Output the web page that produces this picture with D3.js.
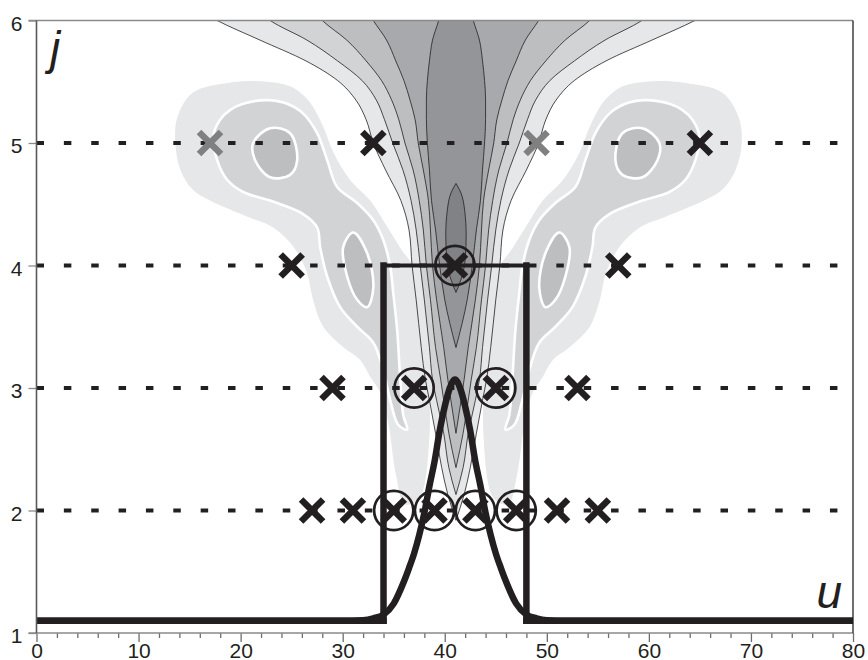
<!DOCTYPE html>
<html><head><meta charset="utf-8">
<script src="https://cdn.jsdelivr.net/npm/d3@7"></script>
<style>body{margin:0;background:#fff}svg{display:block}</style>
</head><body>
<svg id="c" width="868" height="660"></svg>
<script>
// ---------- data ----------
const xMajorTicks = [0,10,20,30,40,50,60,70,80];
const xMinorTicks = [2,4,6,8,12,14,16,18,22,24,26,28,32,34,36,38,42,44,46,48,52,54,56,58,62,64,66,68,72,74,76,78];
const yTicks = [1,2,3,4,5,6];
const rowLevels = [2,3,4,5];

// step profile (thick line)
const stepU = [0,34,34,48,48,80];
const stepJ = [1.1,1.1,4,4,1.1,1.1];

// bell profile (thick line)
const bellU = [0,25,30,32,33,34,35,36,36.5,37,37.5,38,38.5,39,39.5,40,40.5,41,41.5,42,42.5,43,43.5,44,44.5,45,45.5,46,47,48,49,50,52,57,80];
const bellJ = [1.1,1.1,1.1,1.105,1.12,1.15,1.24,1.42,1.53,1.65,1.8,1.98,2.2,2.4,2.65,2.85,3.0,3.07,3.0,2.85,2.65,2.4,2.2,1.98,1.8,1.65,1.53,1.42,1.24,1.15,1.12,1.105,1.1,1.1,1.1];

// markers
const markU    = [17,33,49,65, 25,41,57, 29,37,45,53, 27,31,35,39,43,47,51,55];
const markJ    = [5,5,5,5, 4,4,4, 3,3,3,3, 2,2,2,2,2,2,2,2];
const markTone = ['g','k','g','k', 'k','k','k', 'k','k','k','k', 'k','k','k','k','k','k','k','k'];
const markRing = [0,0,0,0, 0,1,0, 0,1,1,0, 0,0,1,1,1,1,0,0];

// central funnel contours: half widths (u) at levels j, centred at funnelCenter
const funnelCenter = 41.1;
const funnelJ  = [6.1,6.0,5.84,5.67,5.51,5.35,5.19,5.0,4.78,4.53,4.29,4.0,3.72,3.33,3.07,2.9,2.63,2.35,2.13,1.92];
const funnelW1 = [25.5,23.4,19.2,14.7,11.6,9.8,8.8,8.1,6.9,5.4,4.6,4.3,3.9,3.4,3.0,2.6,2.0,1.4,0.8,0];
const funnelW2 = [19.6,18.2,14.6,11.6,9.2,7.8,7.0,6.2,5.2,4.4,3.9,3.5,3.1,2.6,2.3,1.9,1.2,0.7,0];
const funnelW3 = [14.2,13.1,10.7,8.8,7.3,6.3,5.6,5.0,4.2,3.6,3.2,2.9,2.5,2.0,1.5,1.2,0.7,0];
const funnelW4 = [8.8,8.1,6.8,5.9,5.1,4.5,4.0,3.7,3.2,2.7,2.5,2.3,1.9,1.2,0.8,0.5,0];
const funnelW5 = [1.4,1.7,2.3,2.6,2.8,2.9,2.9,2.8,2.6,2.4,2.0,1.6,1.1,0];
const coreJ = [4.67,4.6,4.45,4.25,4.05,3.9,3.78];
const coreW = [0,0.45,0.85,1.0,0.9,0.55,0];

// side lobes (outer light, middle with white edge, inner ovals)
const lobeLeftOuter = [[15.3,5.41],[18.7,5.49],[22.6,5.50],[25.2,5.45],[26.8,5.33],[28.1,5.13],[29.1,4.92],[30.7,4.70],[32.7,4.53],[34.4,4.31],[35.6,4.15],[37.5,3.9],[38.3,3.2],[38.5,2.6],[37.5,2.1],[36.1,2.05],[35.2,2.3],[34.5,2.7],[33.7,2.96],[32.7,3.09],[31.7,3.23],[30.1,3.33],[28.1,3.50],[27.1,3.72],[26.5,3.94],[25.2,4.15],[23.2,4.31],[20.6,4.40],[17.0,4.53],[15.3,4.62],[14.1,4.78],[13.6,5.00],[13.8,5.21]];
const lobeRightOuter = [[67.2,5.41],[63.6,5.49],[59.7,5.50],[57.1,5.45],[55.5,5.33],[54.2,5.13],[53.2,4.92],[51.6,4.70],[49.6,4.53],[47.9,4.31],[46.7,4.15],[44.8,3.9],[44.0,3.2],[43.8,2.6],[44.8,2.1],[46.2,2.05],[47.1,2.3],[47.8,2.7],[48.6,2.96],[49.6,3.09],[50.6,3.23],[52.2,3.33],[54.2,3.50],[55.2,3.72],[55.8,3.94],[57.1,4.15],[59.1,4.31],[61.7,4.40],[65.4,4.53],[67.2,4.62],[68.5,4.78],[69.1,5.00],[68.8,5.21]];
const lobeLeftMid = [[18.99,5.27],[20.25,5.32],[22.6,5.35],[24.56,5.32],[26.13,5.24],[27.5,5.08],[28.48,4.86],[29.46,4.64],[31.42,4.51],[33.0,4.37],[33.97,4.21],[34.66,3.99],[34.95,3.78],[35.34,3.47],[35.64,3.07],[35.93,2.78],[36.32,2.66],[35.44,2.70],[34.66,2.90],[33.97,3.15],[33.0,3.37],[31.42,3.50],[29.75,3.66],[28.48,3.91],[27.79,4.15],[27.5,4.31],[26.13,4.42],[22.89,4.53],[20.25,4.60],[18.68,4.70],[17.7,4.86],[17.3,5.05],[17.99,5.19]];
const lobeRightMid = [[63.27,5.27],[62.01,5.32],[59.66,5.35],[57.7,5.32],[56.13,5.24],[54.76,5.08],[53.78,4.86],[52.8,4.64],[50.84,4.51],[49.26,4.37],[48.29,4.21],[47.6,3.99],[47.31,3.78],[46.92,3.47],[46.62,3.07],[46.33,2.78],[45.94,2.66],[46.82,2.70],[47.6,2.90],[48.29,3.15],[49.26,3.37],[50.84,3.50],[52.51,3.66],[53.78,3.91],[54.47,4.15],[54.76,4.31],[56.13,4.42],[59.37,4.53],[62.01,4.60],[63.58,4.70],[64.56,4.86],[64.96,5.05],[64.27,5.19]];
const ovalLeftUpper  = [[22.89,5.12],[24.85,5.08],[25.54,4.86],[24.85,4.74],[22.89,4.72],[21.42,4.86],[21.23,5.0]];
const ovalLeftLower  = [[31.03,4.27],[32.4,4.10],[33.0,3.82],[32.4,3.66],[31.42,3.72],[30.44,3.91],[30.05,4.15]];
const ovalRightUpper = [[59.37,5.12],[57.41,5.08],[56.72,4.86],[57.41,4.74],[59.37,4.72],[60.84,4.86],[61.03,5.0]];
const ovalRightLower = [[51.23,4.27],[49.86,4.10],[49.26,3.82],[49.86,3.66],[50.84,3.72],[51.82,3.91],[52.21,4.15]];

// ---------- drawing ----------
const L = 36.5, R = 853, T = 20.5, B = 633;
const ink = '#231f20';
const svg = d3.select('#c');
const x = d3.scaleLinear().domain([0,80]).range([L,R]);
const y = d3.scaleLinear().domain([1,6]).range([B,T]);

svg.append('defs').append('clipPath').attr('id','plot')
  .append('rect').attr('x',L).attr('y',T).attr('width',R-L).attr('height',B-T);

const gc = svg.append('g').attr('clip-path','url(#plot)');

const closed = d3.line().x(d=>x(d[0])).y(d=>y(d[1])).curve(d3.curveCatmullRomClosed.alpha(0.5));

// lobes
[lobeLeftOuter, lobeRightOuter].forEach(p =>
  gc.append('path').attr('d', closed(p)).attr('fill','#e6e7e8'));
[lobeLeftMid, lobeRightMid].forEach(p =>
  gc.append('path').attr('d', closed(p)).attr('fill','#d1d3d4').attr('stroke','#fff').attr('stroke-width',2.6));
[ovalLeftUpper, ovalLeftLower, ovalRightUpper, ovalRightLower].forEach(p =>
  gc.append('path').attr('d', closed(p)).attr('fill','#bcbec0').attr('stroke','#fff').attr('stroke-width',2.6));

// funnel
const funnelLevels = [
  {w: funnelW1, j: funnelJ, fill:'#e6e7e8'},
  {w: funnelW2, j: funnelJ, fill:'#d1d3d4'},
  {w: funnelW3, j: funnelJ, fill:'#bcbec0'},
  {w: funnelW4, j: funnelJ, fill:'#a7a9ac'},
  {w: funnelW5, j: funnelJ, fill:'#939598'},
  {w: coreW,    j: coreJ,   fill:'#808285'}
];
const area = d3.area()
  .y(d=>y(d.j))
  .x0(d=>x(funnelCenter - d.w))
  .x1(d=>x(funnelCenter + d.w))
  .curve(d3.curveMonotoneY);
funnelLevels.forEach(lv => {
  const pts = lv.w.map((w,i)=>({w, j: lv.j[i]}));
  gc.append('path').attr('d', area(pts)).attr('fill', lv.fill)
    .attr('stroke', ink).attr('stroke-width', 0.8).attr('stroke-linejoin','round');
});

// dashed rows
gc.selectAll('line.row').data(rowLevels).join('line').attr('class','row')
  .attr('x1', x(0)).attr('x2', x(80)).attr('y1', d=>y(d)).attr('y2', d=>y(d))
  .attr('stroke', ink).attr('stroke-width', 4).attr('stroke-dasharray','7.5 19.86');

// step profile drawn segment by segment
for (let i = 0; i < stepU.length-1; i++) {
  const horiz = stepJ[i] === stepJ[i+1];
  const top = horiz && stepJ[i] > 2;
  gc.append('line')
    .attr('x1', x(stepU[i])).attr('y1', y(stepJ[i]))
    .attr('x2', x(stepU[i+1])).attr('y2', y(stepJ[i+1]))
    .attr('stroke', ink).attr('stroke-width', top ? 4 : 6.5)
    .attr('stroke-linecap', top ? 'butt' : 'square');
}

// bell profile
const bellLine = d3.line().x((d,i)=>x(bellU[i])).y((d,i)=>y(bellJ[i])).curve(d3.curveMonotoneX);
gc.append('path').attr('d', bellLine(bellU)).attr('fill','none')
  .attr('stroke', ink).attr('stroke-width', 6.5).attr('stroke-linejoin','round');

// markers
const mk = svg.append('g');
markU.forEach((u,i) => {
  const cx = x(u), cy = y(markJ[i]);
  const col = markTone[i] === 'g' ? '#808080' : ink;
  mk.append('path').attr('d', `M${cx-11},${cy-11}L${cx+11},${cy+11}M${cx-11},${cy+11}L${cx+11},${cy-11}`)
    .attr('stroke', col).attr('stroke-width', 6.5).attr('fill','none');
  if (markRing[i]) {
    mk.append('circle').attr('cx', cx).attr('cy', cy).attr('r', 19.6)
      .attr('fill','none').attr('stroke', ink).attr('stroke-width', 2.7);
  }
});

// ---------- axes ----------
const font = "'Liberation Sans', Arial, sans-serif";
const axB = svg.append('g').attr('transform', `translate(0,${B})`)
  .call(d3.axisBottom(x).tickValues(xMajorTicks).tickSize(9).tickFormat(d3.format('d')));
axB.select('.domain').remove();
axB.selectAll('line').attr('stroke','#6d6e71').attr('stroke-width',1.3);
axB.selectAll('text').attr('y', 24.5).attr('dy', null)
  .attr('font-family', font).attr('font-size', 21).attr('fill', ink);
const axBm = svg.append('g').attr('transform', `translate(0,${B})`)
  .call(d3.axisBottom(x).tickValues(xMinorTicks).tickSize(5).tickFormat(''));
axBm.select('.domain').remove();
axBm.selectAll('line').attr('stroke','#6d6e71').attr('stroke-width',1.3);

const axL = svg.append('g').attr('transform', `translate(${L},0)`)
  .call(d3.axisLeft(y).tickValues(yTicks).tickSize(8).tickFormat(d3.format('d')));
axL.select('.domain').remove();
axL.selectAll('line').attr('stroke','#8a8a8a').attr('stroke-width',1.3);
axL.selectAll('text').attr('x', -14).attr('dy', null).attr('y', 9.5)
  .attr('font-family', font).attr('font-size', 21).attr('fill', ink);

// frame
svg.append('line').attr('x1', L-8).attr('x2', R).attr('y1', T).attr('y2', T).attr('stroke','#8a8a8a').attr('stroke-width',1.5);
svg.append('line').attr('x1', L-8).attr('x2', R).attr('y1', B).attr('y2', B).attr('stroke','#8a8a8a').attr('stroke-width',1.5);
svg.append('line').attr('x1', L).attr('x2', L).attr('y1', T).attr('y2', B).attr('stroke','#58595b').attr('stroke-width',1.6);
svg.append('line').attr('x1', R).attr('x2', R).attr('y1', T).attr('y2', B).attr('stroke',ink).attr('stroke-width',1.3);

// axis letters
svg.append('text').attr('x', 50).attr('y', 64).text('j')
  .attr('font-family', font).attr('font-style','italic').attr('font-size', 46).attr('fill', ink);
svg.append('text').attr('x', 842).attr('y', 608).attr('text-anchor','end').text('u')
  .attr('font-family', font).attr('font-style','italic').attr('font-size', 46).attr('fill', ink);
</script>
</body></html>
